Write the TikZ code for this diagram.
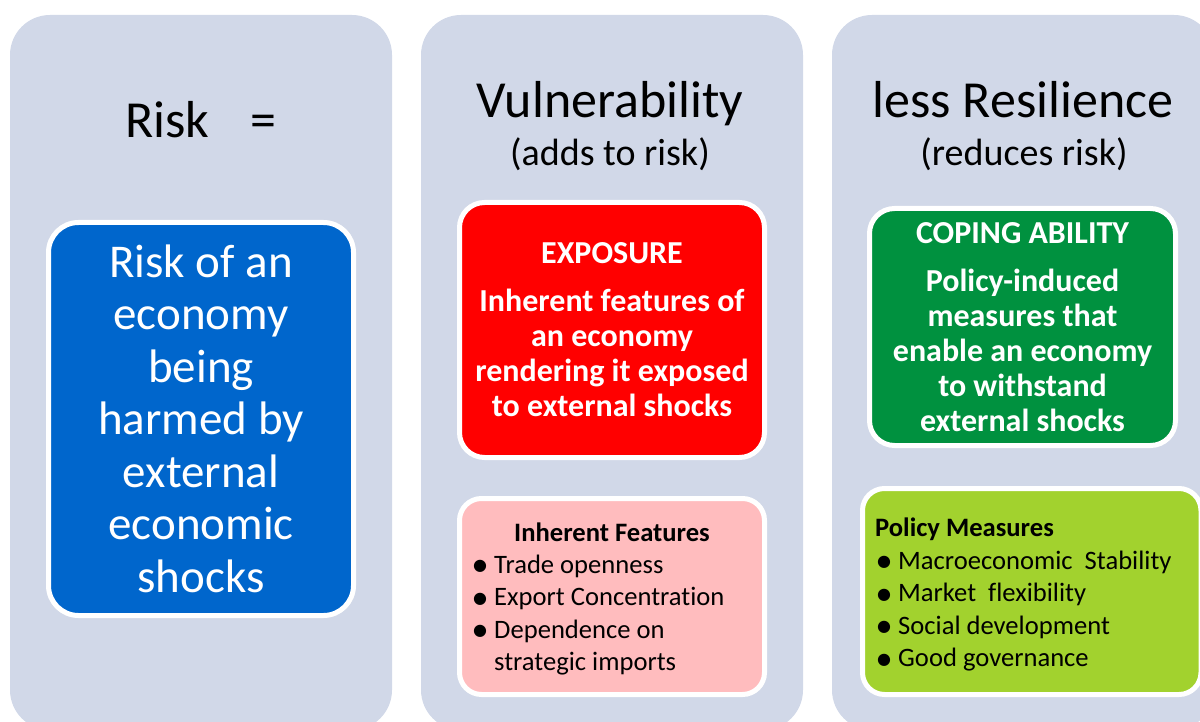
\documentclass[tikz,border=0pt]{standalone}
\usepackage{fontspec}
\setmainfont[Ligatures={NoCommon}]{Carlito}
\newfontfamily\dejavu{DejaVu Sans}
\definecolor{panelC}{RGB}{209,216,232}
\definecolor{blueC}{RGB}{0,102,204}
\definecolor{redC}{RGB}{255,0,0}
\definecolor{pinkC}{RGB}{255,188,190}
\definecolor{greenC}{RGB}{0,145,63}
\definecolor{limeC}{RGB}{162,210,46}
\newcommand{\fsz}[2]{\fontsize{#1}{#2}\selectfont}
\newcommand{\bul}{\makebox[21pt][l]{\raisebox{2.5pt}{\dejavu\fontsize{16}{16}\selectfont ●}}}
\begin{document}
\begin{tikzpicture}[x=1pt,y=-1pt,
  panelbox/.style={fill=panelC, rounded corners=40pt},
  card/.style={draw=white, line width=5pt, rounded corners=25pt},
  head/.style={anchor=base, inner sep=0pt, font=\fsz{52}{60}},
  subhead/.style={anchor=base, inner sep=0pt, font=\fsz{38}{44}},
  boldtxt/.style={anchor=base, inner sep=0pt, align=center, text=white, font=\bfseries\fsz{32}{35}},
  listtxt/.style={anchor=base west, inner sep=0pt, align=left, font=\fsz{26.6}{32.5}}]
\useasboundingbox (0,0) rectangle (1200,722);
\clip (0,0) rectangle (1200,722);
% panels
\path[panelbox] (10,15) rectangle (392,730);
\path[panelbox] (421,15) rectangle (803,730);
\path[panelbox] (832,15) rectangle (1214,730);
% headers
\node[anchor=base west, inner sep=0pt, font=\fsz{52}{60}] (risk) at (125,138) {Risk};
\node[head] (eq) at (263,138) {=};
\node[head] (vul) at (610,118) {Vulnerability};
\node[subhead] (adds) at (610,166) {(adds to risk)};
\node[head] (less) at (1023,118) {less Resilience};
\node[subhead] (reduces) at (1024,166) {(reduces risk)};
% blue card
\draw[card, fill=blueC, rounded corners=30pt] (48.5,222.5) rectangle (353.5,615.5);
\node[anchor=base, inner sep=0pt, align=center, text=white, font=\fsz{47}{52.5}] (risktext) at (201,592)
  {Risk of an\\economy\\being\\harmed by\\external\\economic\\shocks};
% red card
\draw[card, fill=redC] (459.5,202.5) rectangle (764.5,457.5);
\node[boldtxt] (expo) at (612,416)
  {EXPOSURE\\[13pt]Inherent features of\\an economy\\rendering it exposed\\to external shocks};
% pink card
\draw[card, fill=pinkC, rounded corners=22pt] (459.5,498.5) rectangle (764.5,694.5);
\node[anchor=base, inner sep=0pt, font=\bfseries\fsz{26.6}{32.5}] (inhtitle) at (612,541) {Inherent Features};
\node[listtxt] (inhlist) at (473,670.5)
  {\bul Trade openness\\\bul Export Concentration\\\bul Dependence on\\\hspace*{21pt}strategic imports};
% green card
\draw[card, fill=greenC] (869.5,208.5) rectangle (1175.5,445.5);
\node[boldtxt] (coping) at (1022.5,431)
  {COPING ABILITY\\[13pt]Policy-induced\\measures that\\enable an economy\\to withstand\\external shocks};
% lime card
\draw[card, fill=limeC, rounded corners=22pt] (862.5,488.5) rectangle (1201,694.5);
\node[anchor=base west, inner sep=0pt, font=\bfseries\fsz{26.6}{32.5}] (poltitle) at (875,536) {Policy Measures};
\node[listtxt] (pollist) at (877,666.5)
  {\bul Macroeconomic\ \ Stability\\\bul Market\ \ flexibility\\\bul Social development\\\bul Good governance};
\end{tikzpicture}
\end{document}
